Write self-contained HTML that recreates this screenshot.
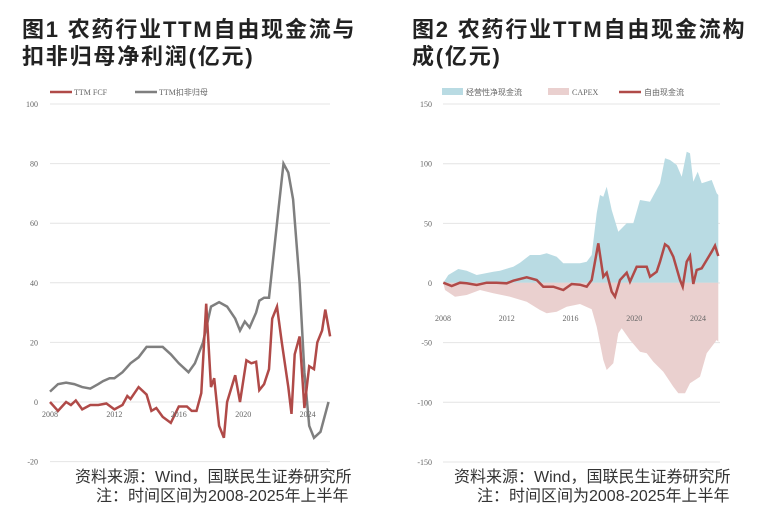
<!DOCTYPE html><html><head><meta charset="utf-8"><style>
body{margin:0;width:781px;height:522px;background:#fff;overflow:hidden;font-family:"Liberation Sans","Noto Sans CJK SC",sans-serif}
.t{position:absolute;font-weight:bold;font-size:22px;line-height:27px;letter-spacing:1.8px;color:#222;white-space:nowrap}
.s{position:absolute;font-size:16px;line-height:19px;color:#333;white-space:nowrap}
</style></head><body>
<div class="t" style="left:22px;top:16px">图1 农药行业TTM自由现金流与<br>扣非归母净利润(亿元)</div>
<div class="t" style="left:412px;top:16px">图2 农药行业TTM自由现金流构<br>成(亿元)</div>
<div class="s" style="left:75px;top:468px">资料来源：Wind，国联民生证券研究所</div>
<div class="s" style="left:96px;top:487px">注：时间区间为2008-2025年上半年</div>
<div class="s" style="left:454px;top:468px">资料来源：Wind，国联民生证券研究所</div>
<div class="s" style="left:477px;top:487px">注：时间区间为2008-2025年上半年</div>
<svg id="g" width="781" height="522" style="position:absolute;left:0;top:0" font-family="Liberation Serif,serif" font-size="8" fill="#666"></svg>
<script>
var s='',g=document.getElementById('g');
function lx(y){return 50+(y-2008)*16.1}function ly(v){return 402-v*2.98}
[100,80,60,40,20,0,-20].forEach(function(v){s+='<line x1="50" x2="330" y1="'+ly(v)+'" y2="'+ly(v)+'" stroke="#e4e4e4"/><text x="38" y="'+(ly(v)+3)+'" text-anchor="end">'+v+'</text>';});
var fcf=[2008,0,2008.5,-3,2009,0,2009.3,-1,2009.6,0.5,2010,-2.5,2010.5,-1,2011,-1,2011.5,-0.5,2012,-2.5,2012.5,-1,2012.8,2,2013,1,2013.5,5,2014,2.5,2014.3,-3,2014.6,-2,2015,-5,2015.5,-7,2016,-1.5,2016.5,-1.5,2016.8,-3,2017.1,-3,2017.4,3,2017.7,33,2018,5,2018.2,8,2018.5,-8,2018.8,-12,2019,0,2019.5,9,2019.8,0,2020.2,14,2020.5,13,2020.8,13.5,2021,4,2021.3,6,2021.6,11,2021.8,28,2022.1,32,2022.4,20,2022.8,5,2023,-4,2023.2,16,2023.5,22,2023.8,-2,2024.1,12,2024.4,11,2024.6,20,2024.9,24,2025.1,31,2025.4,22];
var np=[2008,3.5,2008.5,6,2009,6.5,2009.5,6,2010,5,2010.5,4.5,2011,6,2011.3,7,2011.7,8,2012,8,2012.5,10,2013,13,2013.5,15,2014,18.5,2014.5,18.5,2015,18.5,2015.5,16,2016,13,2016.6,10,2017,13,2017.5,20,2018,32,2018.5,33.5,2019,32,2019.5,28,2019.8,24,2020.1,27,2020.4,25,2020.8,30,2021,34,2021.3,35,2021.6,35,2021.8,45,2022.2,65,2022.5,80,2022.8,77,2023.1,68,2023.5,40,2023.8,10,2024.1,-8,2024.4,-12,2024.8,-10,2025.3,0];
function pl(a,fx,fy){var p=[];for(var i=0;i<a.length;i+=2)p.push(fx(a[i]).toFixed(1)+','+fy(a[i+1]).toFixed(1));return p.join(' ')}
s+='<polyline points="'+pl(np,lx,ly)+'" fill="none" stroke="#7f7f7f" stroke-width="2.5"/>';
s+='<polyline points="'+pl(fcf,lx,ly)+'" fill="none" stroke="#b04a48" stroke-width="2.5"/>';
[2008,2012,2016,2020,2024].forEach(function(y){s+='<text x="'+lx(y)+'" y="417" text-anchor="middle">'+y+'</text>'});
s+='<line x1="50" x2="72" y1="92" y2="92" stroke="#b04a48" stroke-width="2.5"/><text x="74" y="95">TTM FCF</text>';
s+='<line x1="135" x2="157" y1="92" y2="92" stroke="#7f7f7f" stroke-width="2.5"/><text x="159" y="95">TTM扣非归母</text>';
function rx(z){return 400+z/3}function ry(z){return 80+z/3}
[150,100,50,0,-50,-100,-150].forEach(function(v){var y=283-v*1.193;s+='<line x1="443" x2="720" y1="'+y+'" y2="'+y+'" stroke="#e4e4e4"/><text x="432" y="'+(y+3)+'" text-anchor="end">'+v+'</text>';});
var ocf=[130,608,145,585,175,567,200,572,230,585,280,575,300,572,340,560,360,548,390,525,420,525,440,520,470,530,490,550,510,550,540,550,560,545,575,525,590,400,600,345,610,350,620,320,635,390,655,455,680,430,700,430,720,360,750,365,780,310,795,235,810,240,830,255,845,290,860,215,870,220,880,305,893,275,905,310,935,300,950,340,955,345,955,608];
var cap=[130,608,135,630,165,650,200,645,240,630,280,640,330,650,380,665,420,690,440,700,470,695,500,680,540,672,575,688,590,740,610,840,620,870,640,850,655,760,665,745,690,780,720,815,740,820,760,845,790,875,820,920,835,940,855,940,870,910,900,890,920,820,950,780,955,785,955,608];
var rf=[130,608,155,618,180,608,200,610,230,615,260,608,290,608,320,610,340,602,380,592,410,600,430,620,460,620,490,630,515,612,540,614,560,620,575,600,595,490,610,590,620,578,635,635,645,650,660,600,680,578,690,605,710,560,740,560,750,590,770,575,780,545,795,493,805,500,820,530,840,600,848,620,860,545,870,528,880,612,890,570,905,565,920,540,935,515,945,497,955,528];
s+='<polygon points="'+pl(ocf,rx,ry)+'" fill="#b9dbe3"/>';
s+='<polygon points="'+pl(cap,rx,ry)+'" fill="#ead0cf"/>';
s+='<polyline points="'+pl(rf,rx,ry)+'" fill="none" stroke="#b04a48" stroke-width="2.5"/>';
[2008,2012,2016,2020,2024].forEach(function(y){s+='<text x="'+(443+(y-2008)*15.94)+'" y="321" text-anchor="middle">'+y+'</text>'});
s+='<rect x="442" y="88" width="21" height="7" fill="#b9dbe3"/><text x="466" y="95">经营性净现金流</text>';
s+='<rect x="548" y="88" width="21" height="7" fill="#ead0cf"/><text x="572" y="95">CAPEX</text>';
s+='<line x1="619" x2="641" y1="92" y2="92" stroke="#b04a48" stroke-width="2.5"/><text x="644" y="95">自由现金流</text>';
g.innerHTML=s;
</script></body></html>
